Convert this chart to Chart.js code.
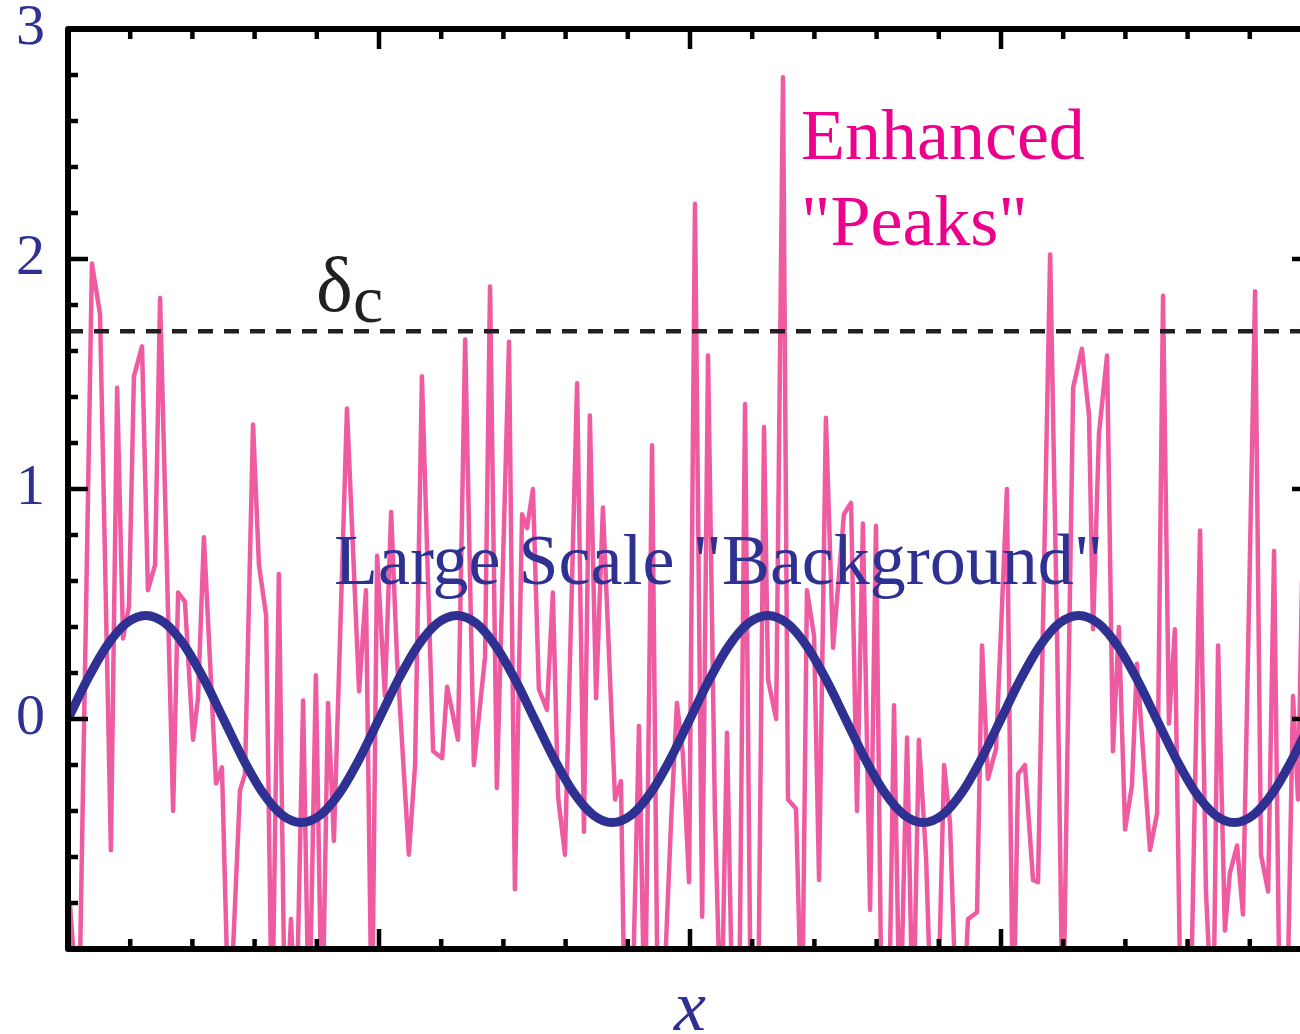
<!DOCTYPE html>
<html lang="en">
<head>
    <meta charset="UTF-8">
    <title>Peaks and background</title>
    <script src="https://cdn.jsdelivr.net/npm/chart.js"></script>
    <style>
        html, body { margin: 0; padding: 0; overflow: hidden; background: #fff; }
        #plot { display: block; }
    </style>
</head>
<body>
    <canvas id="plot" width="1315" height="1034"></canvas>

    <script>
        // small scale density field (pink), x in box units
        const fieldX = [
            0.006, 0.035, 0.077, 0.103, 0.138, 0.158, 0.177, 0.196, 0.212, 0.238,
            0.257, 0.280, 0.296, 0.338, 0.354, 0.376, 0.402, 0.418, 0.437, 0.476,
            0.495, 0.518, 0.553, 0.569, 0.595, 0.614, 0.637, 0.656, 0.678, 0.698,
            0.717, 0.733, 0.756, 0.775, 0.797, 0.817, 0.836, 0.855, 0.897, 0.936,
            0.958, 0.977, 0.994, 1.019, 1.039, 1.058, 1.096, 1.116, 1.138, 1.174,
            1.203, 1.219, 1.254, 1.277, 1.305, 1.341, 1.357, 1.379, 1.418, 1.437,
            1.460, 1.476, 1.495, 1.514, 1.540, 1.559, 1.576, 1.598, 1.637, 1.659,
            1.678, 1.698, 1.720, 1.759, 1.778, 1.791, 1.814, 1.836, 1.855, 1.878,
            1.897, 1.916, 1.939, 1.958, 1.977, 1.997, 2.016, 2.039, 2.058, 2.080,
            2.100, 2.119, 2.138, 2.158, 2.177, 2.196, 2.219, 2.238, 2.251, 2.277,
            2.299, 2.315, 2.341, 2.360, 2.376, 2.399, 2.415, 2.437, 2.460, 2.495,
            2.518, 2.537, 2.556, 2.579, 2.598, 2.617, 2.640, 2.656, 2.675, 2.698,
            2.717, 2.736, 2.759, 2.778, 2.797, 2.817, 2.836, 2.859, 2.878, 2.894,
            2.923, 2.939, 2.958, 2.984, 3.019, 3.039, 3.055, 3.077, 3.103, 3.119,
            3.158, 3.180, 3.199, 3.232, 3.260, 3.283, 3.296, 3.315, 3.341, 3.360,
            3.379, 3.399, 3.421, 3.437, 3.479, 3.502, 3.521, 3.540, 3.559, 3.579,
            3.608, 3.640, 3.659, 3.682, 3.698, 3.720, 3.736, 3.759, 3.778, 3.817,
            3.836, 3.859, 3.878, 3.897, 3.920, 3.939, 3.955, 3.968
        ];
        const fieldY = [
            -0.80, -1.35, 1.98, 1.76, -0.57, 1.44, 0.35, 0.49, 1.49, 1.62,
            0.56, 0.67, 1.83, -0.40, 0.55, 0.51, -0.09, 0.09, 0.79, -0.28,
            -0.21, -1.40, -0.31, -0.24, 1.28, 0.67, 0.45, -1.40, 0.63, -1.40,
            -0.87, -1.40, 0.08, -1.40, 0.19, -1.40, 0.07, -0.53, 1.35, 0.12,
            0.56, -1.40, 0.71, 0.10, 0.90, 0.26, -0.59, -0.20, 1.49, -0.14,
            -0.17, 0.14, -0.09, 1.65, -0.20, 0.27, 1.88, -0.30, 1.64, -0.74,
            0.89, 0.83, 1.00, 0.13, 0.04, 0.55, -0.34, -0.59, 1.46, -0.49,
            1.32, 0.09, 0.92, -0.35, -0.27, -1.40, -1.30, -0.03, -1.40, 1.19,
            -1.40, -1.20, -0.45, 0.07, -0.15, -0.71, 2.24, -0.86, 1.58, -0.40,
            -1.40, -0.06, -1.40, -1.30, 1.37, -1.40, -1.30, 1.27, 0.17, 0.00,
            2.79, -0.35, -0.39, -1.40, 0.56, 0.36, -0.70, 1.31, 0.31, 0.89,
            0.94, -0.40, 0.85, -0.83, 0.84, -1.40, -1.30, 0.06, -1.40, -0.08,
            -1.40, -0.09, -0.60, -1.40, -1.30, -0.20, -0.45, -1.40, -1.30, -0.87,
            -0.84, 0.32, -0.26, -0.13, 1.00, -1.40, -0.24, -0.20, -0.70, -0.71,
            2.02, 0.39, -1.40, 1.44, 1.61, 1.32, 0.39, 1.24, 1.58, -0.14,
            0.40, -0.48, -0.29, 0.24, -0.57, -0.41, 1.84, -0.02, 0.39, -1.40,
            -1.40, 0.82, -0.75, -1.40, 0.32, -0.92, -0.67, -0.55, -0.85, 1.86,
            -0.59, -0.75, 0.73, -1.40, -1.30, 0.10, -0.35, 0.60
        ];

        // large scale mode (navy), one wavelength per box unit
        const backgroundX = [
            0, 0.0625, 0.125, 0.1875, 0.25, 0.3125, 0.375, 0.4375,
            0.5, 0.5625, 0.625, 0.6875, 0.75, 0.8125, 0.875, 0.9375,
            1, 1.0625, 1.125, 1.1875, 1.25, 1.3125, 1.375, 1.4375,
            1.5, 1.5625, 1.625, 1.6875, 1.75, 1.8125, 1.875, 1.9375,
            2, 2.0625, 2.125, 2.1875, 2.25, 2.3125, 2.375, 2.4375,
            2.5, 2.5625, 2.625, 2.6875, 2.75, 2.8125, 2.875, 2.9375,
            3, 3.0625, 3.125, 3.1875, 3.25, 3.3125, 3.375, 3.4375,
            3.5, 3.5625, 3.625, 3.6875, 3.75, 3.8125, 3.875, 3.9375,
            4
        ];
        const backgroundY = [
            0, 0.172, 0.318, 0.416, 0.45, 0.416, 0.318, 0.172,
            0, -0.172, -0.318, -0.416, -0.45, -0.416, -0.318, -0.172,
            0, 0.172, 0.318, 0.416, 0.45, 0.416, 0.318, 0.172,
            0, -0.172, -0.318, -0.416, -0.45, -0.416, -0.318, -0.172,
            0, 0.172, 0.318, 0.416, 0.45, 0.416, 0.318, 0.172,
            0, -0.172, -0.318, -0.416, -0.45, -0.416, -0.318, -0.172,
            0, 0.172, 0.318, 0.416, 0.45, 0.416, 0.318, 0.172,
            0, -0.172, -0.318, -0.416, -0.45, -0.416, -0.318, -0.172,
            0
        ];

        // collapse threshold
        const deltaC = 1.686;

        const yTickValues = [0, 1, 2, 3];
        const yTickLabels = ["0", "1", "2", "3"];
        const xTitle = "x";

        const NAVY = "#2e3192";
        const PINK = "#ef5ba1";
        const MAGENTA = "#ec008c";
        const INK = "#231f20";
        const SERIF = "'Liberation Serif', 'Times New Roman', serif";

        // box frame with inward ticks, tick labels and the text annotations
        const framePlugin = {
            id: "frame",
            afterDatasetsDraw(chart) {
                const c = chart.ctx;
                const xs = chart.scales.x, ys = chart.scales.y;
                const { left, right, top, bottom } = chart.chartArea;
                c.save();

                c.strokeStyle = "#000";
                c.lineWidth = 4.5;
                c.lineCap = "butt";
                c.beginPath();
                for (let i = 0; i <= 20; i++) {
                    const v = -1 + i * 0.2;
                    const len = i % 5 === 0 ? 20 : 10;
                    const py = ys.getPixelForValue(v);
                    c.moveTo(left, py); c.lineTo(left + len, py);
                    c.moveTo(right, py); c.lineTo(right - len, py);
                }
                for (let i = 0; i <= 20; i++) {
                    const v = i * 0.2;
                    const len = i % 5 === 0 ? 20 : 10;
                    const px = xs.getPixelForValue(v);
                    c.moveTo(px, bottom); c.lineTo(px, bottom - len);
                    c.moveTo(px, top); c.lineTo(px, top + len);
                }
                c.stroke();

                c.lineWidth = 6;
                c.lineJoin = "round";
                c.strokeRect(left, top, right - left, bottom - top);

                // y tick labels
                c.fillStyle = NAVY;
                c.font = "58px " + SERIF;
                c.textAlign = "right";
                c.textBaseline = "middle";
                yTickValues.forEach((v, i) => {
                    c.fillText(yTickLabels[i], left - 23, ys.getPixelForValue(v));
                });

                // x axis title
                c.font = "italic 72px " + SERIF;
                c.textAlign = "center";
                c.textBaseline = "alphabetic";
                c.fillText(xTitle, xs.getPixelForValue(2), 1030);

                c.textAlign = "left";
                c.font = "72px " + SERIF;
                c.fillText("Large Scale \"Background\"", 334, 584);

                c.fillStyle = MAGENTA;
                c.fillText("Enhanced", 801, 159);
                c.fillText("\"Peaks\"", 801, 245);

                c.fillStyle = INK;
                c.font = "78px " + SERIF;
                c.fillText("\u03b4", 316, 311);
                c.font = "68px " + SERIF;
                c.fillText("c", 353, 322);

                c.restore();
            }
        };

        new Chart(document.getElementById("plot"), {
            type: "line",
            data: {
                datasets: [
                    {
                        label: "background",
                        data: backgroundX.map((x, i) => ({ x: x, y: backgroundY[i] })),
                        borderColor: NAVY,
                        borderWidth: 9,
                        pointRadius: 0,
                        cubicInterpolationMode: "monotone",
                        order: 0
                    },
                    {
                        label: "delta_c",
                        data: [{ x: 0, y: deltaC }, { x: 4, y: deltaC }],
                        borderColor: INK,
                        borderWidth: 4.5,
                        borderDash: [15, 11],
                        pointRadius: 0,
                        order: 1
                    },
                    {
                        label: "field",
                        data: fieldX.map((x, i) => ({ x: x, y: fieldY[i] })),
                        borderColor: PINK,
                        borderWidth: 4.5,
                        borderJoinStyle: "round",
                        borderCapStyle: "round",
                        pointRadius: 0,
                        tension: 0,
                        order: 2
                    }
                ]
            },
            options: {
                responsive: false,
                animation: false,
                events: [],
                layout: { padding: { left: 68, top: 29, right: 3, bottom: 85 } },
                scales: {
                    x: { type: "linear", min: 0, max: 4, display: false },
                    y: { min: -1, max: 3, display: false }
                },
                plugins: {
                    legend: { display: false },
                    tooltip: { enabled: false }
                }
            },
            plugins: [framePlugin]
        });
    </script>
</body>
</html>
